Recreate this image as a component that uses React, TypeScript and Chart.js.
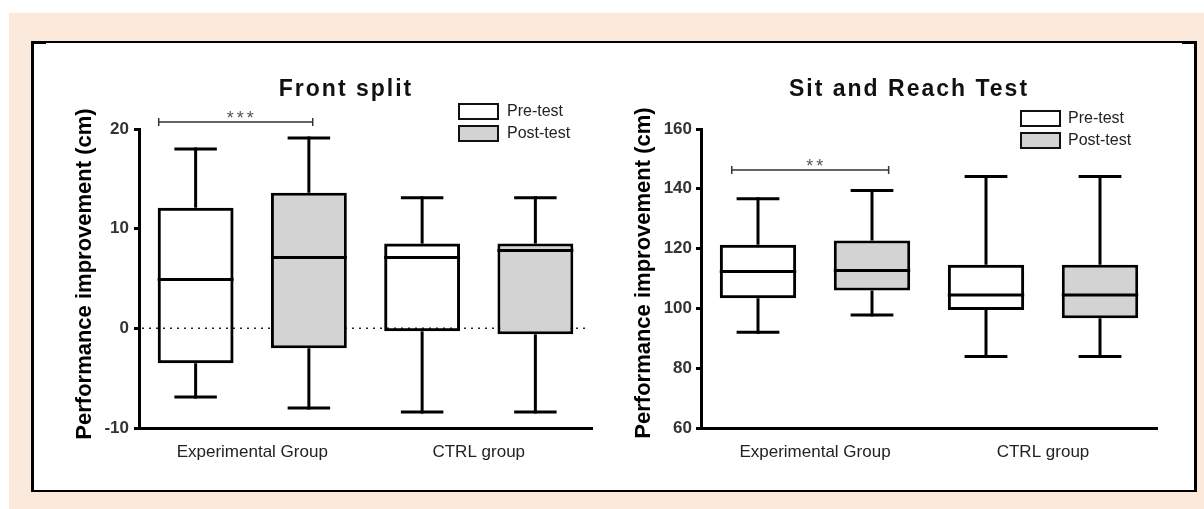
import React, { useEffect, useRef } from "react";
import { Chart, registerables } from "chart.js";

Chart.register(...registerables);

// ---------- DATA ----------
const groups = ["Experimental Group", "CTRL group"];
const seriesNames = ["Pre-test", "Post-test"];

// Front split (cm)
const splitPreMin = [-6.9, -8.4];
const splitPreQ1 = [-3.5, -0.3];
const splitPreMedian = [4.9, 7.1];
const splitPreQ3 = [12.1, 8.5];
const splitPreMax = [18.0, 13.1];
const splitPostMin = [-8.0, -8.4];
const splitPostQ1 = [-2.0, -0.6];
const splitPostMedian = [7.1, 7.8];
const splitPostQ3 = [13.6, 8.5];
const splitPostMax = [19.1, 13.1];
const splitTicks = [-10, 0, 10, 20];
const splitSignificance = "***";
const splitBracketValue = 20.7;

// Sit and Reach Test (cm)
const sarPreMin = [92.0, 83.9];
const sarPreQ1 = [103.4, 99.5];
const sarPreMedian = [112.3, 104.5];
const sarPreQ3 = [121.3, 114.6];
const sarPreMax = [136.7, 144.1];
const sarPostMin = [97.8, 83.9];
const sarPostQ1 = [106.0, 96.7];
const sarPostMedian = [112.7, 104.5];
const sarPostQ3 = [122.7, 114.6];
const sarPostMax = [139.4, 144.1];
const sarTicks = [60, 80, 100, 120, 140, 160];
const sarSignificance = "**";
const sarBracketValue = 146.3;

const yTitle = "Performance improvement (cm)";

// ---------- STYLE / LAYOUT ----------
const FONT = 'Arial, "Liberation Sans", Helvetica, sans-serif';
const POST_FILL = "#d3d3d3";

type Stats = { min: number[]; q1: number[]; med: number[]; q3: number[]; max: number[] };

type PanelCfg = {
  title: string;
  sig: string;
  sigValue: number;
  pre: Stats;
  post: Stats;
  ticks: number[];
  zeroLine: boolean;
  left: number;
  top: number;
  width: number;
  height: number;
  padTop: number;
  padRight: number;
  yAxisWidth: number;
  xAxisHeight: number;
  titleX: number;
  titleY: number;
  yTitleX: number;
  yTitleY: number;
  legendX: number;
  legendY: number;
  legendGap: number;
  legendTextX: number;
  bracketFrom: number;
  bracketTo: number;
  tickPadding: number;
};

const panels: PanelCfg[] = [
  {
    title: "Front split",
    sig: splitSignificance,
    sigValue: splitBracketValue,
    pre: { min: splitPreMin, q1: splitPreQ1, med: splitPreMedian, q3: splitPreQ3, max: splitPreMax },
    post: { min: splitPostMin, q1: splitPostQ1, med: splitPostMedian, q3: splitPostQ3, max: splitPostMax },
    ticks: splitTicks,
    zeroLine: true,
    left: 34,
    top: 44,
    width: 578,
    height: 446,
    padTop: 85,
    padRight: 20,
    yAxisWidth: 105,
    xAxisHeight: 62,
    titleX: 311,
    titleY: 52,
    yTitleX: 51,
    yTitleY: 230,
    legendX: 425,
    legendY: 60,
    legendGap: 22,
    legendTextX: 473,
    bracketFrom: -0.413,
    bracketTo: 0.267,
    tickPadding: 5,
  },
  {
    title: "Sit and Reach Test",
    sig: sarSignificance,
    sigValue: sarBracketValue,
    pre: { min: sarPreMin, q1: sarPreQ1, med: sarPreMedian, q3: sarPreQ3, max: sarPreMax },
    post: { min: sarPostMin, q1: sarPostQ1, med: sarPostMedian, q3: sarPostQ3, max: sarPostMax },
    ticks: sarTicks,
    zeroLine: false,
    left: 614,
    top: 44,
    width: 580,
    height: 446,
    padTop: 85,
    padRight: 37,
    yAxisWidth: 87,
    xAxisHeight: 62,
    titleX: 294,
    titleY: 52,
    yTitleX: 30,
    yTitleY: 229,
    legendX: 407,
    legendY: 67,
    legendGap: 22,
    legendTextX: 454,
    bracketFrom: -0.365,
    bracketTo: 0.323,
    tickPadding: 4,
  },
];

function line(ctx: CanvasRenderingContext2D, x1: number, y1: number, x2: number, y2: number) {
  ctx.beginPath();
  ctx.moveTo(x1, y1);
  ctx.lineTo(x2, y2);
  ctx.stroke();
}

function makePlugin(cfg: PanelCfg) {
  return {
    id: "boxExtras",
    beforeDatasetsDraw(chart: any) {
      if (!cfg.zeroLine) return;
      const { ctx, chartArea } = chart;
      const ys = chart.scales.y;
      const y0 = ys.getPixelForValue(0);
      ctx.save();
      ctx.strokeStyle = "#222";
      ctx.lineWidth = 1.5;
      ctx.setLineDash([2, 5]);
      line(ctx, chartArea.left + 3, y0, chartArea.right - 7, y0);
      ctx.restore();
    },
    afterDatasetsDraw(chart: any) {
      const { ctx } = chart;
      const ys = chart.scales.y;
      const stats = [cfg.pre, cfg.post];
      ctx.save();
      ctx.strokeStyle = "#000";
      ctx.lineWidth = 3;
      ctx.lineCap = "butt";
      chart.data.datasets.forEach((_ds: any, di: number) => {
        const meta = chart.getDatasetMeta(di);
        const s = stats[di];
        meta.data.forEach((el: any, i: number) => {
          const { x, width } = el.getProps(["x", "width"], true);
          const cap = width * 0.56;
          const yMax = ys.getPixelForValue(s.max[i]);
          const yQ3 = ys.getPixelForValue(s.q3[i]);
          const yMed = ys.getPixelForValue(s.med[i]);
          const yQ1 = ys.getPixelForValue(s.q1[i]);
          const yMin = ys.getPixelForValue(s.min[i]);
          line(ctx, x, yQ3, x, yMax - 1.5);
          line(ctx, x - cap / 2, yMax, x + cap / 2, yMax);
          line(ctx, x, yQ1, x, yMin + 1.5);
          line(ctx, x - cap / 2, yMin, x + cap / 2, yMin);
          line(ctx, x - width / 2, yMed, x + width / 2, yMed);
        });
      });
      ctx.restore();
    },
    afterDraw(chart: any) {
      const { ctx } = chart;
      const xs = chart.scales.x;
      const ys = chart.scales.y;
      ctx.save();
      // title
      ctx.fillStyle = "#111";
      ctx.font = `bold 23px ${FONT}`;
      (ctx as any).letterSpacing = "2px";
      ctx.textAlign = "center";
      ctx.textBaseline = "alphabetic";
      ctx.fillText(cfg.title, cfg.titleX + 1, cfg.titleY);
      (ctx as any).letterSpacing = "0px";

      // y title
      ctx.save();
      ctx.translate(cfg.yTitleX, cfg.yTitleY);
      ctx.rotate(-Math.PI / 2);
      ctx.fillStyle = "#000";
      ctx.font = `bold 22px ${FONT}`;
      ctx.textAlign = "center";
      ctx.textBaseline = "middle";
      ctx.fillText(yTitle, 0, 0);
      ctx.restore();

      // legend
      const fills = ["#ffffff", POST_FILL];
      seriesNames.forEach((name, i) => {
        const by = cfg.legendY + i * cfg.legendGap;
        ctx.fillStyle = fills[i];
        ctx.fillRect(cfg.legendX, by, 39, 15);
        ctx.strokeStyle = "#111";
        ctx.lineWidth = 2;
        ctx.strokeRect(cfg.legendX, by, 39, 15);
        ctx.fillStyle = "#222";
        ctx.font = `16px ${FONT}`;
        ctx.textAlign = "left";
        ctx.textBaseline = "middle";
        ctx.fillText(name, cfg.legendTextX, by + 8);
      });

      // significance bracket
      const catW = xs.width / groups.length;
      const cx = xs.getPixelForValue(0);
      const bx1 = cx + cfg.bracketFrom * catW;
      const bx2 = cx + cfg.bracketTo * catW;
      const by = ys.getPixelForValue(cfg.sigValue);
      ctx.strokeStyle = "#333";
      ctx.lineWidth = 1.5;
      line(ctx, bx1, by, bx2, by);
      line(ctx, bx1, by - 4, bx1, by + 4);
      line(ctx, bx2, by - 4, bx2, by + 4);
      ctx.fillStyle = "#555";
      ctx.font = `18px ${FONT}`;
      (ctx as any).letterSpacing = "3px";
      ctx.textAlign = "center";
      ctx.textBaseline = "alphabetic";
      ctx.fillText(cfg.sig, (bx1 + bx2) / 2 + 6, by + 2);
      (ctx as any).letterSpacing = "0px";
      ctx.restore();
    },
  };
}

function BoxChart({ cfg }: { cfg: PanelCfg }) {
  const ref = useRef<HTMLCanvasElement | null>(null);
  useEffect(() => {
    if (!ref.current) return;
    const mk = (s: Stats) => s.q1.map((v, i) => [v, s.q3[i]]);
    const chart = new Chart(ref.current, {
      type: "bar",
      data: {
        labels: groups,
        datasets: [
          {
            label: seriesNames[0],
            data: mk(cfg.pre) as any,
            backgroundColor: "rgba(255,255,255,0)",
            borderColor: "#000",
            borderWidth: 3,
            borderSkipped: false,
            barPercentage: 0.67,
            categoryPercentage: 1.0,
          },
          {
            label: seriesNames[1],
            data: mk(cfg.post) as any,
            backgroundColor: POST_FILL,
            borderColor: "#000",
            borderWidth: 3,
            borderSkipped: false,
            barPercentage: 0.67,
            categoryPercentage: 1.0,
          },
        ],
      },
      options: {
        responsive: false,
        maintainAspectRatio: false,
        animation: false,
        devicePixelRatio: 1,
        layout: { padding: { left: 0, right: cfg.padRight, top: cfg.padTop, bottom: 0 } },
        plugins: {
          legend: { display: false },
          tooltip: { enabled: false },
          title: { display: false },
        },
        scales: {
          x: {
            type: "category",
            grid: { display: false, drawTicks: false },
            border: { display: true, color: "#000", width: 3 },
            ticks: {
              padding: 14,
              color: "#222",
              font: { family: FONT, size: 17 },
              maxRotation: 0,
              autoSkip: false,
            },
            afterFit: (s: any) => {
              s.height = cfg.xAxisHeight;
            },
          },
          y: {
            type: "linear",
            min: cfg.ticks[0],
            max: cfg.ticks[cfg.ticks.length - 1],
            afterBuildTicks: (s: any) => {
              s.ticks = cfg.ticks.map((v) => ({ value: v }));
            },
            grid: {
              drawOnChartArea: false,
              drawTicks: true,
              tickLength: 5,
              tickWidth: 3,
              tickColor: "#000",
              color: "#000",
              lineWidth: 3,
            },
            border: { display: true, color: "#000", width: 3 },
            ticks: {
              padding: cfg.tickPadding,
              color: "#333",
              font: { family: FONT, size: 17, weight: "bold" },
            },
            afterFit: (s: any) => {
              s.width = cfg.yAxisWidth;
            },
          },
        },
      },
      plugins: [makePlugin(cfg)],
    } as any);
    return () => chart.destroy();
  }, [cfg]);
  return (
    <canvas
      ref={ref}
      width={cfg.width}
      height={cfg.height}
      style={{
        position: "absolute",
        left: cfg.left,
        top: cfg.top,
        width: cfg.width,
        height: cfg.height,
      }}
    />
  );
}

export default function App() {
  return (
    <div
      style={{
        position: "absolute",
        left: 0,
        top: 0,
        width: 1204,
        height: 509,
        background: "#ffffff",
        overflow: "hidden",
      }}
    >
      <div
        style={{
          position: "absolute",
          left: 9,
          top: 13,
          width: 1195,
          height: 496,
          background: "#fbe9db",
        }}
      />
      <div
        style={{
          position: "absolute",
          left: 31,
          top: 41,
          width: 1166,
          height: 451,
          boxSizing: "border-box",
          background: "#ffffff",
          borderTop: "2px solid #000",
          borderLeft: "3px solid #000",
          borderRight: "3px solid #000",
          borderBottom: "2px solid #000",
        }}
      />
      <div style={{ position: "absolute", left: 31, top: 41, width: 15, height: 3, background: "#000" }} />
      <div style={{ position: "absolute", left: 1182, top: 41, width: 15, height: 3, background: "#000" }} />
      {panels.map((p, i) => (
        <BoxChart key={i} cfg={p} />
      ))}
    </div>
  );
}
